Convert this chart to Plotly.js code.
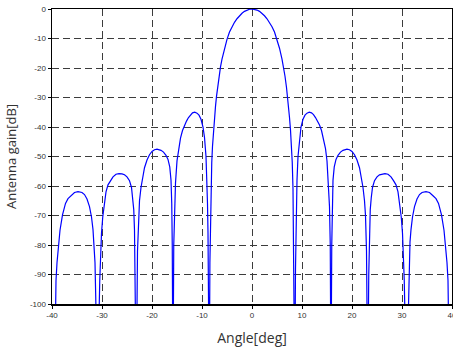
<!DOCTYPE html>
<html>
<head>
<meta charset="utf-8">
<script src="https://cdn.plot.ly/plotly-3.0.1.min.js"></script>
<style>html,body{margin:0;padding:0;background:#fff;}#chart{width:453px;height:350px;}</style>
</head>
<body>
<div id="chart"></div>
<script>
// Angle [deg] and antenna gain [dB]
const angleLeft = [-39.5,-39.2,-39.0,-38.7,-38.4,-37.9,-37.3,-36.8,-36.2,-35.5,-34.8,-34.0,-33.5,-33.0,-32.5,-32.1,-31.8,-31.6,-31.4,-31.25,
  -30.9,-30.45,-30.3,-30.1,-29.85,-29.55,-29.2,-28.8,-28.3,-27.8,-27.2,-26.6,-26.0,-25.5,-25.0,-24.5,-24.1,-23.85,-23.65,-23.5,-23.35,
  -23.15,-22.9,-22.7,-22.5,-22.2,-21.9,-21.5,-21.0,-20.5,-20.0,-19.5,-19.0,-18.6,-18.2,-17.7,-17.2,-16.8,-16.45,-16.2,-16.05,-15.95,
  -15.8,-15.65,-15.5,-15.3,-15.0,-14.7,-14.3,-13.9,-13.5,-13.1,-12.7,-12.3,-11.9,-11.45,-11.0,-10.6,-10.2,-9.8,-9.5,-9.2,-9.0,-8.9,-8.8,-8.7,
  -8.55,-8.42,-8.32,-8.2,-8.05,-7.9,-7.7,-7.5,-7.3,-7.1,-6.9,-6.6,-6.3,-6.0,-5.5,-5.0,-4.5,-4.0,-3.5,-3.0,-2.5,-2.0,-1.5,-1.0,-0.5];
const gainLeft = [-130,-92,-86,-79.5,-75,-69.8,-65.9,-64.3,-63.3,-62.2,-61.9,-62.2,-62.9,-64.4,-67,-70.5,-74.8,-79,-86,-98,
  -130,-92,-83,-76,-70.5,-66.2,-62,-59.6,-58.2,-56.9,-56.0,-55.8,-55.9,-56.2,-56.9,-58.2,-60.5,-64,-68,-75,-90,
  -130,-82,-70,-65,-60.5,-57.2,-53.8,-51.2,-49.4,-48.3,-47.7,-47.5,-47.6,-47.9,-48.5,-49.6,-51.0,-53.5,-58,-66,-80,
  -130,-80,-67,-59,-51.5,-47.3,-43.8,-41.2,-39.3,-38.0,-36.8,-35.8,-35.2,-35.0,-35.3,-36.0,-37.4,-40,-43.5,-50,-58,-66,-76,-88,
  -130,-86,-72,-61,-52,-46.5,-41.0,-36.8,-33.0,-29.6,-26.6,-22.8,-19.6,-17.0,-13.3,-10.3,-7.8,-6.0,-4.5,-3.3,-2.3,-1.45,-0.8,-0.36,-0.09];
const angleCenter = [0];
const gainCenter = [0];
const angleRight = [0.5,1,1.5,2,2.5,3,3.5,4,4.5,5,5.5,6,6.3,6.6,6.9,7.1,7.3,7.5,7.7,7.9,8.05,8.2,8.32,8.42,8.55,
  8.7,8.8,8.9,9.0,9.2,9.5,9.8,10.2,10.6,11.0,11.45,11.9,12.3,12.7,13.1,13.5,13.9,14.3,14.7,15.0,15.3,15.5,15.65,15.8,
  15.95,16.05,16.2,16.45,16.8,17.2,17.7,18.2,18.6,19.0,19.5,20.0,20.5,21.0,21.5,21.9,22.2,22.5,22.7,22.9,23.15,
  23.35,23.5,23.65,23.85,24.1,24.5,25.0,25.5,26.0,26.6,27.2,27.8,28.3,28.8,29.2,29.55,29.85,30.1,30.3,30.45,30.9,
  31.25,31.4,31.6,31.8,32.1,32.5,33.0,33.5,34.0,34.8,35.5,36.2,36.8,37.3,37.9,38.4,38.7,39.0,39.2,39.5];
const gainRight = [-0.09,-0.36,-0.8,-1.45,-2.3,-3.3,-4.5,-6.0,-7.8,-10.3,-13.3,-17.0,-19.6,-22.8,-26.6,-29.6,-33.0,-36.8,-41.0,-46.5,-52,-61,-72,-86,-130,
  -88,-76,-66,-58,-50,-43.5,-40,-37.4,-36.0,-35.3,-35.0,-35.2,-35.8,-36.8,-38.0,-39.3,-41.2,-43.8,-47.3,-51.5,-59,-67,-80,-130,
  -80,-66,-58,-53.5,-51.0,-49.6,-48.5,-47.9,-47.6,-47.5,-47.7,-48.3,-49.4,-51.2,-53.8,-57.2,-60.5,-65,-70,-82,-130,
  -90,-75,-68,-64,-60.5,-58.2,-56.9,-56.2,-55.9,-55.8,-56.0,-56.9,-58.2,-59.6,-62,-66.2,-70.5,-76,-83,-92,-130,
  -98,-86,-79,-74.8,-70.5,-67,-64.4,-62.9,-62.2,-61.9,-62.2,-63.3,-64.3,-65.9,-69.8,-75,-79.5,-86,-92,-130];

const xTicks = [-40,-30,-20,-10,0,10,20,30,40];
const yTicks = [-100,-90,-80,-70,-60,-50,-40,-30,-20,-10,0];
const xTitle = 'Angle[deg]';
const yTitle = 'Antenna gain[dB]';

const angles = angleLeft.concat(angleCenter, angleRight);
const gains = gainLeft.concat(gainCenter, gainRight);

const trace = {
  x: angles, y: gains, type: 'scatter', mode: 'lines',
  line: {color: '#0000ff', width: 1.2},
  hoverinfo: 'skip'
};

const axisCommon = {
  showline: true, mirror: true, linecolor: '#000', linewidth: 1.5,
  showgrid: true, gridcolor: '#3c3c3c', gridwidth: 1, griddash: '7px,4px',
  zeroline: false, ticks: 'outside', ticklen: 3, tickcolor: '#000', tickwidth: 1,
  ticklabeloverflow: 'allow',
  tickfont: {family: 'Liberation Sans, Arial, sans-serif', size: 8, color: '#333'},
  fixedrange: true
};

const layout = {
  width: 453, height: 350,
  margin: {l: 52, r: 1, t: 9, b: 46},
  paper_bgcolor: '#fff', plot_bgcolor: '#fff',
  showlegend: false,
  xaxis: Object.assign({}, axisCommon, {
    range: [-40, 40], tickvals: xTicks, ticktext: xTicks.map(String),
    title: {text: xTitle, font: {family: 'Open Sans, Noto Sans, sans-serif', size: 14, color: '#333'}, standoff: 14}
  }),
  yaxis: Object.assign({}, axisCommon, {
    range: [-100, 0], tickvals: yTicks, ticktext: yTicks.map(String),
    title: {text: yTitle, font: {family: 'Open Sans, Noto Sans, sans-serif', size: 13, color: '#333'}, standoff: 10}
  })
};

Plotly.newPlot('chart', [trace], layout, {staticPlot: true, displayModeBar: false});
</script>
</body>
</html>
